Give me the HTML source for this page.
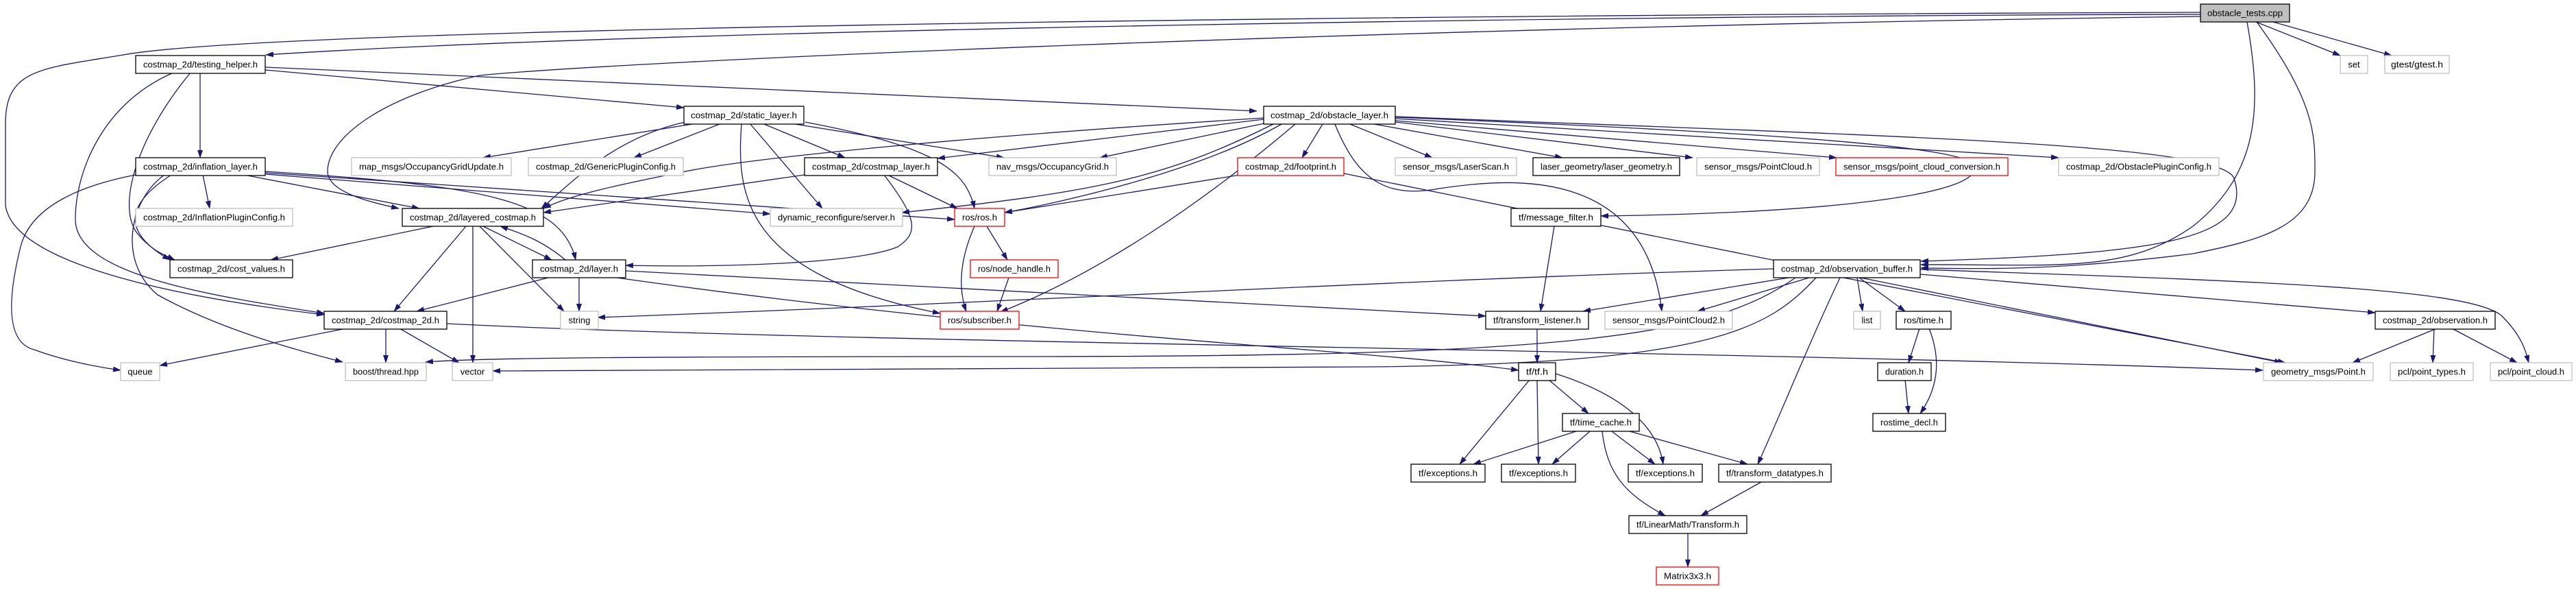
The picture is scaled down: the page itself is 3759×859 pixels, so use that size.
<!DOCTYPE html>
<html><head><meta charset="utf-8"><style>
html,body{margin:0;padding:0;background:#fff;}
svg{display:block;}
text{font-family:"Liberation Sans",sans-serif;font-size:13px;fill:#000;}
.e{fill:none;stroke:#191970;stroke-width:1.3;marker-end:url(#a);}
.b{fill:#fff;stroke:#000;stroke-width:1.3;}
.g{fill:#fff;stroke:#bfbfbf;stroke-width:1.3;}
.r{fill:#fff;stroke:#ff0000;stroke-width:1.3;}
</style></head><body>
<svg width="3759" height="859" viewBox="0 0 3759 859" xmlns="http://www.w3.org/2000/svg">
<defs><marker id="a" markerWidth="12" markerHeight="8" refX="11" refY="4" orient="auto" markerUnits="userSpaceOnUse"><path d="M0,0 L12,4 L0,8 z" fill="#191970"/></marker></defs>
<g>
<!-- obstacle_tests -->
<path class="e" d="M3292,32 L3415,81"/>
<path class="e" d="M3317,32 L3490,81"/>
<path class="e" d="M3211,21 C2500,22 1000,40 388,80"/>
<path class="e" d="M3211,18 C2000,22 400,40 180,80 C60,100 8,100 8,180 L8,300 C20,380 230,430 473,459"/>
<path class="e" d="M3211,24 C2000,40 900,90 700,110 C560,140 478,200 478,250 C478,280 540,295 582,304"/>
<path class="e" d="M3279,32 C3300,150 3300,250 3200,330 C3100,400 3000,385 2803,386"/>
<path class="e" d="M3293,32 C3380,150 3378,200 3378,250 C3378,330 3300,350 3200,370 C3000,395 2900,392 2803,391"/>
<!-- testing_helper -->
<path class="e" d="M292,106 L292,230"/>
<path class="e" d="M278,106 C200,200 170,300 200,340 C220,365 240,372 255,379"/>
<path class="e" d="M253,106 C150,150 110,250 110,320 C110,400 300,430 473,457"/>
<path class="e" d="M387,102 L998,157"/>
<path class="e" d="M387,98 L1834,162"/>
<!-- inflation_layer -->
<path class="e" d="M296,255 L306,304"/>
<path class="e" d="M356,255 L612,304"/>
<path class="e" d="M387,250 C700,270 820,290 840,379"/>
<path class="e" d="M250,255 C180,300 180,340 248,379"/>
<path class="e" d="M198,255 C120,270 45,300 30,360 C10,440 10,500 50,510 C90,525 140,535 176,540"/>
<path class="e" d="M240,255 C190,290 170,380 230,430 C320,480 430,510 500,528"/>
<path class="e" d="M387,252 L1393,320"/>
<path class="e" d="M387,254 L1124,312"/>
<!-- static_layer -->
<path class="e" d="M1010,181 L705,230"/>
<path class="e" d="M1050,181 L925,230"/>
<path class="e" d="M1115,181 L1233,230"/>
<path class="e" d="M1160,181 L1465,230"/>
<path class="e" d="M1175,178 C1370,215 1410,250 1422,304"/>
<path class="e" d="M1095,181 L1200,304"/>
<path class="e" d="M1082,181 C1075,280 1080,400 1372,457"/>
<path class="e" d="M1000,178 C900,200 840,260 790,304"/>
<!-- costmap_layer -->
<path class="e" d="M1174,255 L793,310"/>
<path class="e" d="M1295,255 L1397,304"/>
<path class="e" d="M1290,255 C1340,320 1340,340 1310,360 C1250,385 1050,390 913,387"/>
<!-- obstacle_layer -->
<path class="e" d="M1930,181 L1900,230"/>
<path class="e" d="M1970,181 L2090,230"/>
<path class="e" d="M2005,181 L2280,230"/>
<path class="e" d="M2036,178 L2470,230"/>
<path class="e" d="M2036,176 L2680,230"/>
<path class="e" d="M2036,173 L3004,230"/>
<path class="e" d="M1845,180 L1605,230"/>
<path class="e" d="M1844,174 L1368,231"/>
<path class="e" d="M1844,172 C1400,200 1100,230 1000,250 C900,270 830,285 793,304"/>
<path class="e" d="M1858,181 C1700,260 1600,280 1316,310"/>
<path class="e" d="M1870,181 C1750,250 1550,295 1466,310"/>
<path class="e" d="M1890,181 C1750,300 1600,400 1460,455"/>
<path class="e" d="M2036,171 C2500,190 2860,210 2880,240 C2900,280 2700,310 2336,315"/>
<path class="e" d="M2036,170 C2800,200 3240,210 3260,260 C3290,350 3150,370 2803,381"/>
<path class="e" d="M1948,181 C1980,260 2020,290 2100,275 C2200,260 2400,240 2425,454"/>
<!-- footprint -->
<path class="e" d="M1961,253 L3330,529"/>
<path class="e" d="M1810,255 L1466,310"/>
<!-- ros -->
<path class="e" d="M1422,330 C1400,380 1398,420 1410,454"/>
<path class="e" d="M1440,330 L1470,379"/>
<path class="e" d="M1472,405 L1455,454"/>
<!-- layered_costmap -->
<path class="e" d="M632,330 L395,379"/>
<path class="e" d="M705,330 L805,379"/>
<path class="e" d="M825,379 C790,350 760,340 730,330"/>
<path class="e" d="M680,330 L575,454"/>
<path class="e" d="M690,330 L690,529"/>
<path class="e" d="M700,330 L823,454"/>
<!-- layer -->
<path class="e" d="M800,405 L608,454"/>
<path class="e" d="M845,405 L845,454"/>
<path class="e" d="M900,405 C1500,490 2000,510 2216,540"/>
<path class="e" d="M913,395 L2168,461"/>
<!-- costmap_2d -->
<path class="e" d="M505,479 L233,533"/>
<path class="e" d="M563,479 L563,529"/>
<path class="e" d="M583,479 L670,529"/>
<path class="e" d="M652,472 C1200,500 2500,510 3302,540"/>
<!-- observation_buffer -->
<path class="e" d="M2588,392 C2000,410 1500,440 872,463"/>
<path class="e" d="M2610,405 L2310,454"/>
<path class="e" d="M2640,405 L2477,454"/>
<path class="e" d="M2620,405 C2500,490 2300,520 1500,520 C900,520 700,522 621,528"/>
<path class="e" d="M2650,405 C2580,480 2500,530 2000,535 C1400,540 900,540 719,541"/>
<path class="e" d="M2710,405 L2718,454"/>
<path class="e" d="M2713,405 L2780,454"/>
<path class="e" d="M2802,400 L3466,456"/>
<path class="e" d="M2802,393 C3300,410 3600,420 3650,460 C3680,490 3685,510 3690,529"/>
<path class="e" d="M2690,405 L3335,529"/>
<path class="e" d="M2685,405 C2640,500 2600,600 2565,677"/>
<!-- tf chain -->
<path class="e" d="M2268,330 L2248,454"/>
<path class="e" d="M2243,479 L2243,529"/>
<path class="e" d="M2232,554 L2130,677"/>
<path class="e" d="M2243,554 L2245,677"/>
<path class="e" d="M2260,554 L2318,603"/>
<path class="e" d="M2270,545 C2380,580 2420,630 2427,677"/>
<path class="e" d="M2300,629 L2150,677"/>
<path class="e" d="M2320,629 L2265,677"/>
<path class="e" d="M2352,629 L2415,677"/>
<path class="e" d="M2378,629 L2550,677"/>
<path class="e" d="M2338,629 C2345,690 2370,720 2430,752"/>
<path class="e" d="M2570,703 L2482,752"/>
<path class="e" d="M2463,778 L2463,827"/>
<path class="e" d="M2801,479 L2785,529"/>
<path class="e" d="M2815,479 C2835,530 2825,570 2802,603"/>
<path class="e" d="M2780,554 L2785,603"/>
<path class="e" d="M3556,479 L3433,529"/>
<path class="e" d="M3552,479 L3550,529"/>
<path class="e" d="M3578,479 L3673,529"/>
</g>
<g>
<rect x="3211" y="6" width="130" height="26" fill="#bfbfbf" stroke="#000" stroke-width="1.3"/><text x="3276" y="23.5" text-anchor="middle" textLength="110" lengthAdjust="spacingAndGlyphs">obstacle_tests.cpp</text>
<rect class="g" x="3415" y="81" width="40" height="26"/><text x="3435" y="98.5" text-anchor="middle">set</text>
<rect class="g" x="3480" y="81" width="94" height="26"/><text x="3527" y="98.5" text-anchor="middle" textLength="76" lengthAdjust="spacingAndGlyphs">gtest/gtest.h</text>
<rect class="b" x="198" y="81" width="189" height="26"/><text x="292.5" y="98.5" text-anchor="middle" textLength="167" lengthAdjust="spacingAndGlyphs">costmap_2d/testing_helper.h</text>
<rect class="b" x="998" y="155" width="175" height="26"/><text x="1085.5" y="172.5" text-anchor="middle" textLength="155" lengthAdjust="spacingAndGlyphs">costmap_2d/static_layer.h</text>
<rect class="b" x="1844" y="155" width="192" height="26"/><text x="1940" y="172.5" text-anchor="middle" textLength="172" lengthAdjust="spacingAndGlyphs">costmap_2d/obstacle_layer.h</text>
<rect class="b" x="198" y="230" width="189" height="26"/><text x="292.5" y="247.5" text-anchor="middle" textLength="167" lengthAdjust="spacingAndGlyphs">costmap_2d/inflation_layer.h</text>
<rect class="g" x="513" y="230" width="233" height="26"/><text x="629.5" y="247.5" text-anchor="middle" textLength="211" lengthAdjust="spacingAndGlyphs">map_msgs/OccupancyGridUpdate.h</text>
<rect class="g" x="771" y="230" width="226" height="26"/><text x="884" y="247.5" text-anchor="middle" textLength="204" lengthAdjust="spacingAndGlyphs">costmap_2d/GenericPluginConfig.h</text>
<rect class="b" x="1174" y="230" width="194" height="26"/><text x="1271" y="247.5" text-anchor="middle" textLength="172" lengthAdjust="spacingAndGlyphs">costmap_2d/costmap_layer.h</text>
<rect class="g" x="1443" y="230" width="186" height="26"/><text x="1536" y="247.5" text-anchor="middle" textLength="164" lengthAdjust="spacingAndGlyphs">nav_msgs/OccupancyGrid.h</text>
<rect class="r" x="1806" y="230" width="155" height="26"/><text x="1883.5" y="247.5" text-anchor="middle" textLength="133" lengthAdjust="spacingAndGlyphs">costmap_2d/footprint.h</text>
<rect class="g" x="2036" y="230" width="177" height="26"/><text x="2124.5" y="247.5" text-anchor="middle" textLength="155" lengthAdjust="spacingAndGlyphs">sensor_msgs/LaserScan.h</text>
<rect class="b" x="2237" y="230" width="214" height="26"/><text x="2344" y="247.5" text-anchor="middle" textLength="192" lengthAdjust="spacingAndGlyphs">laser_geometry/laser_geometry.h</text>
<rect class="g" x="2476" y="230" width="179" height="26"/><text x="2565.5" y="247.5" text-anchor="middle" textLength="157" lengthAdjust="spacingAndGlyphs">sensor_msgs/PointCloud.h</text>
<rect class="r" x="2679" y="230" width="251" height="26"/><text x="2804.5" y="247.5" text-anchor="middle" textLength="229" lengthAdjust="spacingAndGlyphs">sensor_msgs/point_cloud_conversion.h</text>
<rect class="g" x="3004" y="230" width="234" height="26"/><text x="3121" y="247.5" text-anchor="middle" textLength="212" lengthAdjust="spacingAndGlyphs">costmap_2d/ObstaclePluginConfig.h</text>
<rect class="g" x="198" y="304" width="229" height="26"/><text x="312.5" y="321.5" text-anchor="middle" textLength="207" lengthAdjust="spacingAndGlyphs">costmap_2d/InflationPluginConfig.h</text>
<rect class="b" x="587" y="304" width="206" height="26"/><text x="690" y="321.5" text-anchor="middle" textLength="184" lengthAdjust="spacingAndGlyphs">costmap_2d/layered_costmap.h</text>
<rect class="g" x="1124" y="304" width="193" height="26"/><text x="1220.5" y="321.5" text-anchor="middle" textLength="171" lengthAdjust="spacingAndGlyphs">dynamic_reconfigure/server.h</text>
<rect class="r" x="1393" y="304" width="73" height="26"/><text x="1429.5" y="321.5" text-anchor="middle" textLength="51" lengthAdjust="spacingAndGlyphs">ros/ros.h</text>
<rect class="b" x="2205" y="304" width="131" height="26"/><text x="2270.5" y="321.5" text-anchor="middle" textLength="109" lengthAdjust="spacingAndGlyphs">tf/message_filter.h</text>
<rect class="b" x="248" y="379" width="179" height="26"/><text x="337.5" y="396.5" text-anchor="middle" textLength="157" lengthAdjust="spacingAndGlyphs">costmap_2d/cost_values.h</text>
<rect class="b" x="777" y="379" width="136" height="26"/><text x="845" y="396.5" text-anchor="middle" textLength="114" lengthAdjust="spacingAndGlyphs">costmap_2d/layer.h</text>
<rect class="r" x="1416" y="379" width="128" height="26"/><text x="1480" y="396.5" text-anchor="middle" textLength="106" lengthAdjust="spacingAndGlyphs">ros/node_handle.h</text>
<rect class="b" x="2588" y="379" width="214" height="26"/><text x="2695" y="396.5" text-anchor="middle" textLength="192" lengthAdjust="spacingAndGlyphs">costmap_2d/observation_buffer.h</text>
<rect class="b" x="473" y="454" width="179" height="26"/><text x="562.5" y="471.5" text-anchor="middle" textLength="157" lengthAdjust="spacingAndGlyphs">costmap_2d/costmap_2d.h</text>
<rect class="g" x="818" y="454" width="55" height="26"/><text x="845.5" y="471.5" text-anchor="middle">string</text>
<rect class="r" x="1372" y="454" width="115" height="26"/><text x="1429.5" y="471.5" text-anchor="middle" textLength="93" lengthAdjust="spacingAndGlyphs">ros/subscriber.h</text>
<rect class="b" x="2168" y="454" width="150" height="26"/><text x="2243" y="471.5" text-anchor="middle" textLength="128" lengthAdjust="spacingAndGlyphs">tf/transform_listener.h</text>
<rect class="g" x="2342" y="454" width="186" height="26"/><text x="2435" y="471.5" text-anchor="middle" textLength="164" lengthAdjust="spacingAndGlyphs">sensor_msgs/PointCloud2.h</text>
<rect class="g" x="2705" y="454" width="39" height="26"/><text x="2724.5" y="471.5" text-anchor="middle">list</text>
<rect class="b" x="2767" y="454" width="80" height="26"/><text x="2807" y="471.5" text-anchor="middle" textLength="58" lengthAdjust="spacingAndGlyphs">ros/time.h</text>
<rect class="b" x="3466" y="454" width="175" height="26"/><text x="3553.5" y="471.5" text-anchor="middle" textLength="153" lengthAdjust="spacingAndGlyphs">costmap_2d/observation.h</text>
<rect class="g" x="176" y="529" width="57" height="26"/><text x="204.5" y="546.5" text-anchor="middle">queue</text>
<rect class="g" x="504" y="529" width="118" height="26"/><text x="563" y="546.5" text-anchor="middle" textLength="96" lengthAdjust="spacingAndGlyphs">boost/thread.hpp</text>
<rect class="g" x="660" y="529" width="59" height="26"/><text x="689.5" y="546.5" text-anchor="middle">vector</text>
<rect class="b" x="2216" y="529" width="54" height="26"/><text x="2243" y="546.5" text-anchor="middle" textLength="32" lengthAdjust="spacingAndGlyphs">tf/tf.h</text>
<rect class="b" x="2740" y="529" width="78" height="26"/><text x="2779" y="546.5" text-anchor="middle" textLength="56" lengthAdjust="spacingAndGlyphs">duration.h</text>
<rect class="g" x="3303" y="529" width="160" height="26"/><text x="3383" y="546.5" text-anchor="middle" textLength="138" lengthAdjust="spacingAndGlyphs">geometry_msgs/Point.h</text>
<rect class="g" x="3488" y="529" width="121" height="26"/><text x="3548.5" y="546.5" text-anchor="middle" textLength="99" lengthAdjust="spacingAndGlyphs">pcl/point_types.h</text>
<rect class="g" x="3634" y="529" width="119" height="26"/><text x="3693.5" y="546.5" text-anchor="middle" textLength="97" lengthAdjust="spacingAndGlyphs">pcl/point_cloud.h</text>
<rect class="b" x="2280" y="603" width="112" height="26"/><text x="2336" y="620.5" text-anchor="middle" textLength="90" lengthAdjust="spacingAndGlyphs">tf/time_cache.h</text>
<rect class="b" x="2733" y="603" width="106" height="26"/><text x="2786" y="620.5" text-anchor="middle" textLength="84" lengthAdjust="spacingAndGlyphs">rostime_decl.h</text>
<rect class="b" x="2059" y="677" width="108" height="26"/><text x="2113" y="694.5" text-anchor="middle" textLength="86" lengthAdjust="spacingAndGlyphs">tf/exceptions.h</text>
<rect class="b" x="2191" y="677" width="108" height="26"/><text x="2245" y="694.5" text-anchor="middle" textLength="86" lengthAdjust="spacingAndGlyphs">tf/exceptions.h</text>
<rect class="b" x="2376" y="677" width="108" height="26"/><text x="2430" y="694.5" text-anchor="middle" textLength="86" lengthAdjust="spacingAndGlyphs">tf/exceptions.h</text>
<rect class="b" x="2508" y="677" width="164" height="26"/><text x="2590" y="694.5" text-anchor="middle" textLength="142" lengthAdjust="spacingAndGlyphs">tf/transform_datatypes.h</text>
<rect class="b" x="2377" y="752" width="172" height="26"/><text x="2463" y="769.5" text-anchor="middle" textLength="150" lengthAdjust="spacingAndGlyphs">tf/LinearMath/Transform.h</text>
<rect class="r" x="2417" y="827" width="91" height="26"/><text x="2462.5" y="844.5" text-anchor="middle" textLength="69" lengthAdjust="spacingAndGlyphs">Matrix3x3.h</text>
</g>
</svg>
</body></html>
